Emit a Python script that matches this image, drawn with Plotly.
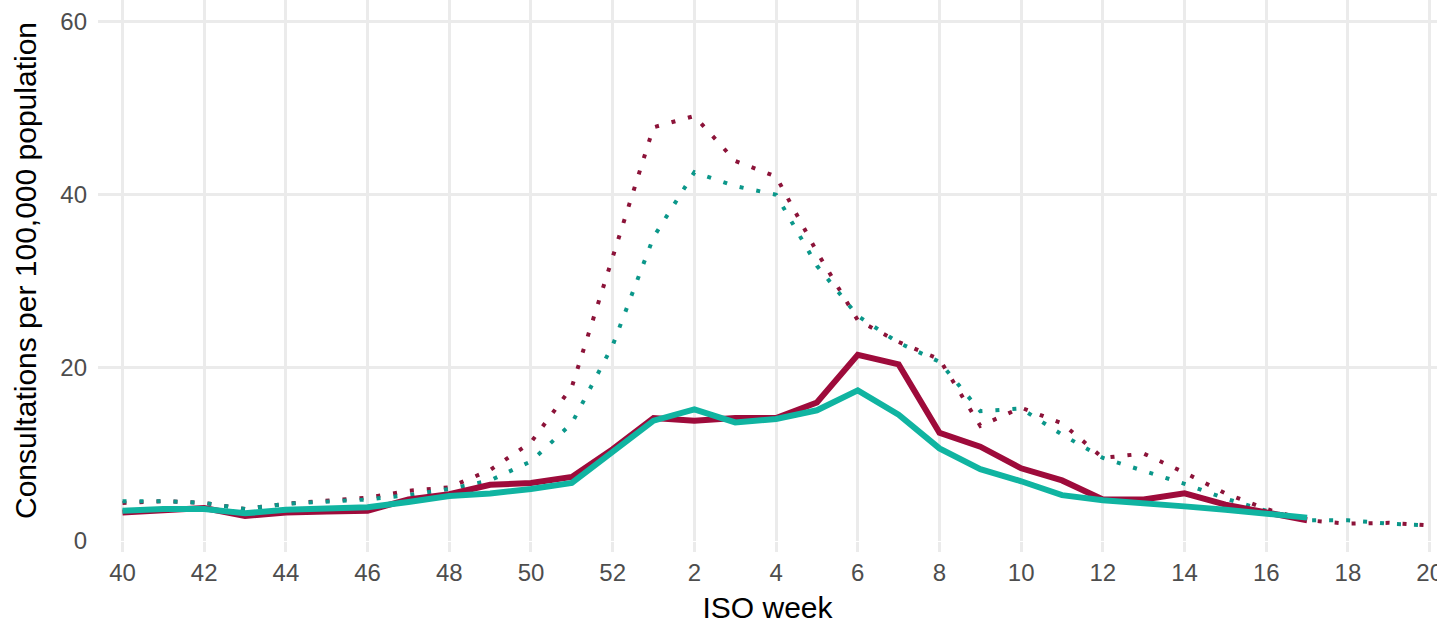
import plotly.graph_objects as go

# ISO weeks of the season, week 40 through week 20 of the following year
weeks = [40, 41, 42, 43, 44, 45, 46, 47, 48, 49, 50, 51, 52,
         1, 2, 3, 4, 5, 6, 7, 8, 9, 10, 11, 12, 13, 14, 15, 16, 17, 18, 19, 20]
tick_weeks = [40, 42, 44, 46, 48, 50, 52, 2, 4, 6, 8, 10, 12, 14, 16, 18, 20]

# Current season (solid), weeks 40-17
current_red = [3.3, 3.6, 3.8, 2.9, 3.3, 3.4, 3.5, 4.8, 5.4, 6.5, 6.7, 7.4, 10.6,
               14.2, 13.9, 14.2, 14.2, 16.0, 21.5, 20.4, 12.5, 10.9, 8.4, 7.0,
               4.8, 4.8, 5.5, 4.2, 3.3, 2.4]
current_teal = [3.5, 3.7, 3.7, 3.2, 3.6, 3.8, 3.9, 4.5, 5.2, 5.5, 6.0, 6.7, 10.3,
                13.9, 15.2, 13.7, 14.1, 15.1, 17.4, 14.6, 10.7, 8.3, 6.9, 5.3,
                4.7, 4.4, 4.0, 3.6, 3.2, 2.7]

# Comparison season (dotted), weeks 40-20
previous_red = [4.4, 4.6, 4.4, 3.7, 4.3, 4.6, 5.0, 5.8, 6.2, 8.2, 11.4, 17.8, 32.8,
                47.8, 49.1, 43.9, 42.1, 33.4, 25.5, 23.0, 21.0, 13.3, 15.4, 13.6,
                9.6, 10.1, 7.9, 5.5, 3.7, 2.4, 2.0, 2.1, 1.8]
previous_teal = [4.6, 4.6, 4.4, 3.7, 4.3, 4.5, 4.8, 5.3, 6.0, 7.0, 9.2, 13.6, 22.6,
                 35.1, 42.6, 41.0, 40.0, 31.8, 26.0, 22.9, 20.7, 15.0, 15.3, 12.3,
                 9.6, 8.1, 6.6, 4.9, 3.5, 2.4, 2.4, 2.0, 1.8]

RED = "#9E0B3B"
RED_DOT = "#8C1339"
TEAL = "#10B4A1"
TEAL_DOT = "#0B978A"

pos = list(range(len(weeks)))
tick_pos = [weeks.index(w) if w >= 40 else weeks.index(w, 13) for w in tick_weeks]
tick_text = [str(w) for w in tick_weeks]

fig = go.Figure()
dot_style = "4px,13px"
fig.add_trace(go.Scatter(x=pos[:len(previous_red)], y=previous_red, mode="lines",
                         line=dict(color=RED_DOT, width=4, dash=dot_style),
                         showlegend=False, hoverinfo="skip"))
fig.add_trace(go.Scatter(x=pos[:len(previous_teal)], y=previous_teal, mode="lines",
                         line=dict(color=TEAL_DOT, width=4, dash=dot_style),
                         showlegend=False, hoverinfo="skip"))
fig.add_trace(go.Scatter(x=pos[:len(current_red)], y=current_red, mode="lines",
                         line=dict(color=RED, width=6),
                         showlegend=False))
fig.add_trace(go.Scatter(x=pos[:len(current_teal)], y=current_teal, mode="lines",
                         line=dict(color=TEAL, width=6),
                         showlegend=False))

FONT = "Liberation Sans, Arial, sans-serif"
fig.update_layout(
    width=1437, height=626,
    margin=dict(l=98, r=0, t=0, b=85),
    paper_bgcolor="white", plot_bgcolor="white",
    font=dict(family=FONT, color="#4D4D4D"),
)
fig.update_xaxes(
    range=[-0.6, 32.18],
    tickmode="array", tickvals=tick_pos, ticktext=tick_text,
    tickfont=dict(size=24, color="#4D4D4D"),
    ticklabeloverflow="allow",
    showgrid=True, gridcolor="#EBEBEB", gridwidth=2.6,
    ticks="outside", ticklen=10, tickwidth=2.6, tickcolor="#EBEBEB",
    zeroline=False, showline=False,
    title=dict(text="ISO week", font=dict(size=30, color="#000000"), standoff=12),
    automargin=False,
)
fig.update_yaxes(
    range=[0, 62.5],
    tickvals=[0, 20, 40, 60],
    tickfont=dict(size=24, color="#4D4D4D"),
    showgrid=True, gridcolor="#EBEBEB", gridwidth=2.6,
    ticks="", ticklabelstandoff=10,
    zeroline=False, showline=False,
    title=dict(text="Consultations per 100,000 population",
               font=dict(size=30, color="#000000"), standoff=14),
    automargin=False,
)

fig.write_html("out.html")
